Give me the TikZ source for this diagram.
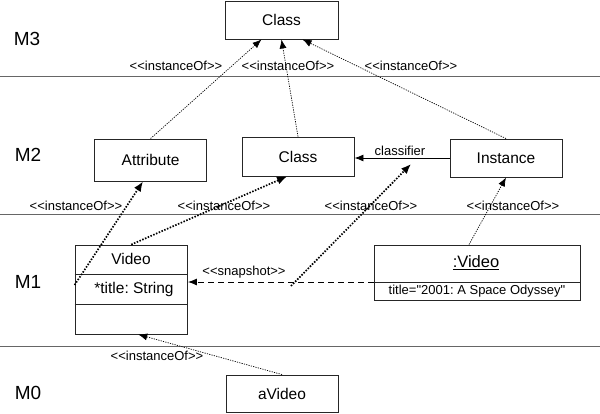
\documentclass[tikz,border=0pt]{standalone}
\usepackage{fontspec}
\setmainfont{Liberation Sans}[Ligatures=TeXOff]
\usetikzlibrary{arrows.meta}
\newcommand\dlt{<\kern0pt<}
\newcommand\dgt{>\kern0pt>}
\frenchspacing
\begin{document}
\begin{tikzpicture}[x=1pt,y=-1pt,
		box/.style={draw=black!85,line width=0.9pt,inner sep=0pt,font=\fontsize{15.5}{18}\selectfont},
		lvl/.style={font=\fontsize{19}{22}\selectfont},
		lbl/.style={font=\fontsize{13}{15}\selectfont,inner sep=0pt},
		layer/.style={draw=black!60,line width=1pt},
		thinio/.style={draw,dash pattern=on 1.2pt off 1.2pt,line width=0.7pt,-{Latex[length=9pt,width=7pt]}},
		thickio/.style={draw,dash pattern=on 1.5pt off 1.5pt,line width=1.7pt,-{Latex[length=10pt,width=8pt]}},
		snapline/.style={draw,dash pattern=on 6pt off 4pt,line width=0.9pt,-{Latex[length=9pt,width=7pt]}}]
		\useasboundingbox (0,0) rectangle (600,413);

		\path[layer] (0,76) -- (600,76);
		\path[layer] (0,214) -- (600,214);
		\path[layer] (0,346) -- (600,346);

		\node[lvl] (m3) at (27,39) {M3};
		\node[lvl] (m2) at (28,155) {M2};
		\node[lvl] (m1) at (28,282) {M1};
		\node[lvl] (m0) at (28,393) {M0};

		\node[box,minimum width=113pt,minimum height=38pt] (metaclass) at (281.5,20) {Class};
		\node[box,minimum width=112pt,minimum height=42pt] (attribute) at (150.6,160) {Attribute};
		\node[box,minimum width=112pt,minimum height=39pt] (class) at (298,156.5) {Class};
		\node[box,minimum width=112pt,minimum height=38pt] (instance) at (506,158) {Instance};
		\node[box,minimum width=112.5pt,minimum height=89pt] (video) at (131.25,289.5) {};
		\node[box,draw=none] (videoname) at (131,259) {Video};
		\node[box,draw=none] (videoattr) at (134,289) {*title: String};
		\node[box,minimum width=206pt,minimum height=55pt] (obj) at (477,272.5) {};
		\node[box,draw=none,font=\fontsize{16.5}{19}\selectfont] (objname) at (476,263) {\underline{:Video}};
		\node[lbl] (objattr) at (477,291) {title="2001: A Space Odyssey"};
		\node[box,minimum width=112pt,minimum height=37pt] (avideo) at (282,393.5) {aVideo};

		\path[draw,draw=black!85,line width=0.9pt] (video.west |- 0,274) -- (video.east |- 0,274);
		\path[draw,draw=black!85,line width=0.9pt] (video.west |- 0,304) -- (video.east |- 0,304);
		\path[draw,draw=black!85,line width=0.9pt] (obj.west |- 0,282) -- (obj.east |- 0,282);

		\coordinate (snapmid) at (291,286);
		\coordinate (classifiermid) at (411,164);

		\path[thinio] (attribute.north) -- ([xshift=-20pt]metaclass.south);
		\path[thinio] (class.north) -- (metaclass.south);
		\path[thinio] (instance.north) -- ([xshift=21pt]metaclass.south);
		\path[draw,line width=0.9pt,-{Latex[length=9pt,width=7pt]}] (instance.west) -- (instance.west -| class.east);

		\path[thickio] ([yshift=4.5pt]video.west) -- ([xshift=-7.6pt]attribute.south);
		\path[thickio] (video.north) -- ([xshift=-11pt]class.south);
		\path[thickio] (snapmid) -- (classifiermid);
		\path[thinio] ([xshift=-8pt]obj.north) -- (instance.south);
		\path[snapline] ([yshift=-9.5pt]obj.west) -- ([yshift=7.5pt]video.east);
		\path[thinio] (avideo.north) -- ([xshift=7pt]video.south);

		\node[lbl] (io1) at (176,66) {\dlt instanceOf\dgt};
		\node[lbl] (io2) at (288,66) {\dlt instanceOf\dgt};
		\node[lbl] (io3) at (411,66) {\dlt instanceOf\dgt};
		\node[lbl] (io4) at (76,206) {\dlt instanceOf\dgt};
		\node[lbl] (io5) at (224,206) {\dlt instanceOf\dgt};
		\node[lbl] (io6) at (371,206) {\dlt instanceOf\dgt};
		\node[lbl] (io7) at (513,206) {\dlt instanceOf\dgt};
		\node[lbl] (io8) at (157,356) {\dlt instanceOf\dgt};
		\node[lbl] (snap) at (244,272) {\dlt snapshot\dgt};
		\node[lbl] (classifier) at (400,151) {classifier};
	\end{tikzpicture}
\end{document}
